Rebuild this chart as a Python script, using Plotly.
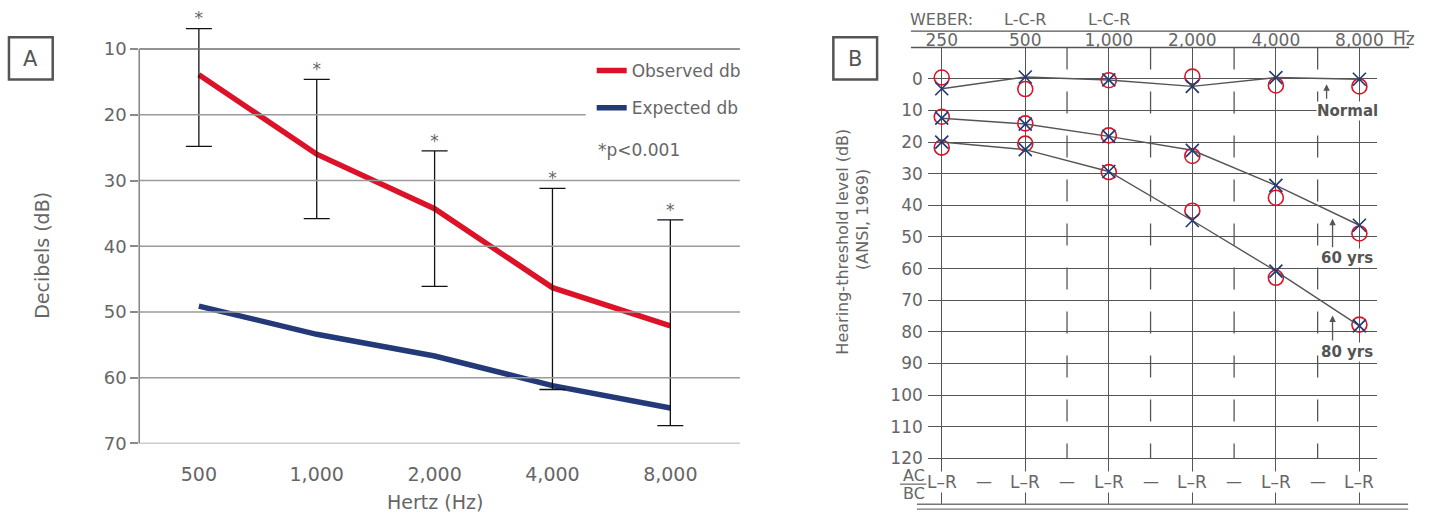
import plotly.graph_objects as go

W, H = 1437, 527
FONT = "DejaVu Sans"
def px(x): return x / W
def py(y): return 1 - y / H

# ---------------- Panel A data ----------------
freq_a = ["500", "1,000", "2,000", "4,000", "8,000"]
observed_db = [13.9, 26.0, 34.3, 46.3, 52.1]
expected_db = [49.1, 53.4, 56.7, 61.2, 64.6]
err_top = [6.9, 14.6, 25.5, 31.2, 36.0]
err_bottom = [24.8, 35.8, 46.1, 61.8, 67.3]
a_ticks = [10, 20, 30, 40, 50, 60, 70]

# ---------------- Panel B data ----------------
freq_b = ["250", "500", "1,000", "2,000", "4,000", "8,000"]
normal_x = [3.15, -0.57, 0.36, 2.4, -0.4, 0.14]
normal_o = [-0.39, 3.24, 0.45, -0.7, 2.1, 2.4]
yrs60_x = [12.45, 14.3, 18.2, 22.6, 33.7, 46.3]
yrs60_o = [12.0, 14.1, 17.9, 24.4, 37.6, 48.9]
yrs80_x = [20.0, 22.4, 29.3, 44.8, 60.8, 78.1]
yrs80_o = [21.75, 20.5, 29.5, 41.7, 62.9, 77.7]
b_ticks = list(range(0, 121, 10))
weber = ["WEBER:", "L-C-R", "L-C-R"]

RED = "#dc1228"
NAVY = "#243a78"
GRAY_T = "#666666"
GRID_B = "#555555"

fig = go.Figure()

# ---- Panel A traces ----
fig.add_trace(go.Scatter(x=freq_a, y=observed_db, mode="lines", name="Observed db",
                         line=dict(color=RED, width=5.5), legendgroup="o",
                         xaxis="x", yaxis="y"))
fig.add_trace(go.Scatter(x=freq_a, y=expected_db, mode="lines", name="Expected db",
                         line=dict(color=NAVY, width=5.5), legendgroup="e",
                         xaxis="x", yaxis="y"))
fig.add_trace(go.Scatter(
    x=freq_a, y=observed_db, mode="markers", showlegend=False,
    marker=dict(color="rgba(0,0,0,0)", size=1), cliponaxis=False,
    error_y=dict(type="data", symmetric=False,
                 array=[b - o for b, o in zip(err_bottom, observed_db)],
                 arrayminus=[o - t for o, t in zip(observed_db, err_top)],
                 color="#111111", thickness=1.3, width=13),
    xaxis="x", yaxis="y", hoverinfo="skip"))
fig.add_trace(go.Scatter(x=freq_a, y=err_top, mode="text", text=["*"] * len(freq_a),
                         textposition="top center", showlegend=False, cliponaxis=False,
                         textfont=dict(family=FONT, size=17, color=GRAY_T),
                         xaxis="x", yaxis="y", hoverinfo="skip"))

# ---- Panel B traces ----
for xs, os_ in [(normal_x, normal_o), (yrs60_x, yrs60_o), (yrs80_x, yrs80_o)]:
    fig.add_trace(go.Scatter(x=freq_b, y=os_, mode="markers", showlegend=False,
                             marker=dict(symbol="circle-open", size=15, color=RED,
                                         line=dict(width=1.6, color=RED)),
                             xaxis="x2", yaxis="y2", hoverinfo="skip"))
    fig.add_trace(go.Scatter(x=freq_b, y=xs, mode="lines+markers", showlegend=False,
                             line=dict(color=GRID_B, width=1.4),
                             marker=dict(symbol="x-thin", size=13, color=NAVY,
                                         line=dict(width=1.7, color=NAVY)),
                             xaxis="x2", yaxis="y2", hoverinfo="skip"))

shapes = []
# Panel A gridlines and axis line
for v in a_ticks:
    shapes.append(dict(type="line", xref="x domain", yref="y", x0=0,
                       x1=0.7434 if v == 20 else 1, y0=v, y1=v,
                       line=dict(color="#6e6e6e" if v == 10 else "#9a9a9a", width=1.5)))
shapes.append(dict(type="line", xref="x domain", yref="y", x0=0, x1=0, y0=10, y1=70,
                   line=dict(color="#8a8a8a", width=1.6)))
# Panel label boxes
for x0 in (7, 836):
    shapes.append(dict(type="rect", xref="paper", yref="paper", x0=px(x0), x1=px(x0 + 44),
                       y0=py(81), y1=py(38), line=dict(color="#555555", width=2.5)))
# Panel B header lines
for yy in (31.7, 48.4):
    shapes.append(dict(type="line", xref="paper", yref="paper", x0=px(914), x1=px(1415),
                       y0=py(yy), y1=py(yy), line=dict(color=GRID_B, width=1.3)))
# Panel B bottom double line
for yy in (514, 519):
    shapes.append(dict(type="line", xref="paper", yref="paper", x0=px(920), x1=px(1414),
                       y0=py(yy), y1=py(yy), line=dict(color="#777777", width=1.3)))
# Half-octave dashed lines
for i in range(1, len(freq_b) - 1):
    shapes.append(dict(type="line", xref="x2", yref="y2", x0=i + 0.5, x1=i + 0.5,
                       y0=-9.9, y1=120, line=dict(color=GRID_B, width=1.3, dash="22px,22px")))
# AC/BC fraction bar
shapes.append(dict(type="line", xref="paper", yref="paper", x0=px(903), x1=px(930),
                   y0=py(493.5), y1=py(493.5), line=dict(color="#666666", width=1.2)))


def A(text, x, y, xref="paper", yref="paper", size=16, color=GRAY_T, xanchor="center",
      yanchor="middle", **kw):
    d = dict(text=text, x=x, y=y, xref=xref, yref=yref, showarrow=False,
             xanchor=xanchor, yanchor=yanchor,
             font=dict(family=FONT, size=size, color=color))
    d.update(kw)
    return d


ann = []
ann.append(A("A", px(29), py(60), size=21, color="#555555"))
ann.append(A("B", px(858), py(60), size=21, color="#555555"))
ann.append(A("Decibels (dB)", px(40), py(260), size=19, textangle=-90))
ann.append(A("Hertz (Hz)", px(435), py(512), size=19))
ann.append(A("*p<0.001", px(597), py(153), size=17, xanchor="left"))
ann.append(A("Hearing-threshold level (dB)", px(845), py(246), size=16, textangle=-90))
ann.append(A("(ANSI, 1969)", px(866), py(224), size=16, textangle=-90))
for i, t in enumerate(weber):
    ann.append(A(t, i, py(20), xref="x2", size=16))
ann.append(A("Hz", px(1410), py(40), size=17))
for i in range(len(freq_b)):
    ann.append(A("L–R", i, py(491), xref="x2", size=17, bgcolor="white", borderpad=0))
    if i < len(freq_b) - 1:
        ann.append(A("—", i + 0.5, py(491), xref="x2", size=16))
ann.append(A("AC", px(917), py(485), size=16))
ann.append(A("BC", px(917), py(503), size=16))
for t, yy in [("Normal", 112.7), ("60 yrs", 262.5), ("80 yrs", 358.5)]:
    ann.append(A("<b>%s</b>" % t, px(1353), py(yy), size=15, color="#555555",
                 bgcolor="white", borderpad=0))
for xx, tip, tail in [(1332, 86, 102), (1338, 223, 253), (1338, 321.5, 348)]:
    ann.append(dict(text="", x=px(xx), y=py(tip), xref="paper", yref="paper",
                    showarrow=True, ax=0, ay=tail - tip, arrowhead=2, arrowsize=1,
                    arrowwidth=1.3, arrowcolor="#555555"))

fig.update_layout(
    width=W, height=527, margin=dict(l=0, r=0, t=0, b=0),
    paper_bgcolor="white", plot_bgcolor="white",
    font=dict(family=FONT, color=GRAY_T),
    shapes=shapes, annotations=ann,
    showlegend=True,
    legend=dict(x=px(593), y=py(54), xanchor="left", yanchor="top",
                font=dict(family=FONT, size=17, color=GRAY_T),
                bgcolor="rgba(0,0,0,0)", tracegroupgap=12, itemwidth=30),
    xaxis=dict(domain=[px(138), px(742)], anchor="y", type="category",
               range=[-0.506, 4.59], showgrid=False, zeroline=False, showline=False,
               ticks="", ticklabelstandoff=18,
               tickfont=dict(family=FONT, size=19, color=GRAY_T)),
    yaxis=dict(domain=[py(452), py(19.85)], anchor="x", range=[70, 5.5],
               tickvals=a_ticks, ticks="outside", ticklen=8, tickcolor="#8a8a8a",
               tickwidth=1.5, showgrid=False, zeroline=False, showline=False,
               tickfont=dict(family=FONT, size=18, color=GRAY_T)),
    xaxis2=dict(domain=[px(931), px(1383)], anchor="y2", side="top", type="category",
                categoryorder="array", categoryarray=freq_b,
                range=[-0.1667, 5.2143], showgrid=True, gridcolor=GRID_B, gridwidth=1.3,
                zeroline=False, showline=False, ticks="", ticklabelstandoff=-3,
                tickfont=dict(family=FONT, size=17, color=GRAY_T)),
    yaxis2=dict(domain=[py(514), py(48.4)], anchor="x2", range=[134.5, -9.9],
                tickvals=b_ticks, showgrid=True, gridcolor=GRID_B, gridwidth=1.3,
                zeroline=False, showline=False, ticks="", ticklabelstandoff=4,
                tickfont=dict(family=FONT, size=17, color=GRAY_T)),
    yaxis3=dict(overlaying="y2", side="right", anchor="x2", range=[134.5, -9.9],
                tickvals=b_ticks, showgrid=False, zeroline=False, showline=False,
                ticks="", ticklabelstandoff=4,
                tickfont=dict(family=FONT, size=17, color=GRAY_T)),
)

fig.write_html(
    "out.html",
    config={"displayModeBar": False},
    post_script="document.documentElement.style.margin='0';document.body.style.margin='0';",
)
